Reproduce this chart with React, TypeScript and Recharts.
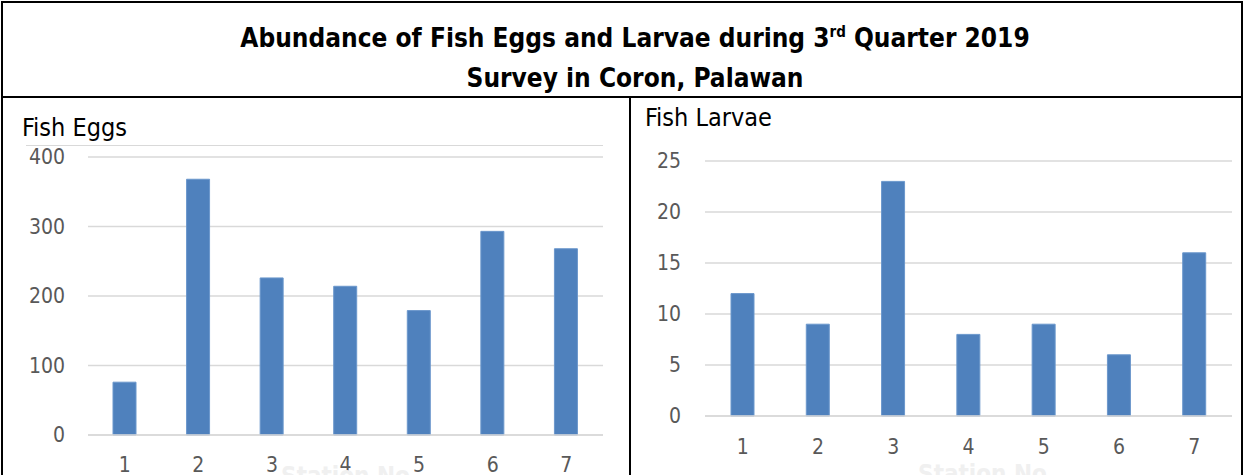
import React from 'react';
import { BarChart, Bar, XAxis, YAxis, CartesianGrid } from 'recharts';

const stations = ['1', '2', '3', '4', '5', '6', '7'];
const fishEggs = [76, 368, 226, 214, 179, 293, 268];
const fishLarvae = [12, 9, 23, 8, 9, 6, 16];
const eggTicks = [0, 100, 200, 300, 400];
const larvaeTicks = [0, 5, 10, 15, 20, 25];

const eggData = stations.map((station, i) => ({ station, count: fishEggs[i] }));
const larvaeData = stations.map((station, i) => ({ station, count: fishLarvae[i] }));

const FONT = '"Liberation Sans Narrow", "DejaVu Sans Condensed", "Liberation Sans", sans-serif';
const BAR_COLOR = '#4f81bd';
const GRID = '#d9d9d9';

const tickStyle = { fill: '#595959', fontSize: 21, fontFamily: FONT };
// axis title is almost entirely cropped off in the original screenshot
const faintLabel = {
  value: 'Station No',
  position: 'insideBottom' as const,
  offset: -9,
  fill: '#f0f0f0',
  fontSize: 24,
  fontWeight: 700,
  fontFamily: FONT,
};

const line = (style: React.CSSProperties): React.CSSProperties => ({
  position: 'absolute',
  background: '#000',
  ...style,
});

export default function App() {
  return (
    <div
      style={{
        position: 'absolute',
        left: 0,
        top: 0,
        width: 1244,
        height: 475,
        overflow: 'hidden',
        background: '#fff',
        fontFamily: FONT,
      }}
    >
      {/* table borders */}
      <div style={line({ left: 1, top: 1, width: 1242, height: 2 })} />
      <div style={line({ left: 1, top: 1, width: 2, height: 480 })} />
      <div style={line({ left: 1241, top: 1, width: 2, height: 480 })} />
      <div style={line({ left: 1, top: 96, width: 1242, height: 2 })} />
      <div style={line({ left: 629, top: 96, width: 2, height: 390 })} />

      {/* title */}
      <div
        style={{
          position: 'absolute',
          left: 0,
          width: 1270,
          top: 22,
          textAlign: 'center',
          fontSize: 26,
          fontWeight: 700,
          lineHeight: '32px',
          color: '#000',
        }}
      >
        Abundance of Fish Eggs and Larvae during 3<sup style={{ fontSize: 15, lineHeight: 0 }}>rd</sup> Quarter 2019
      </div>
      <div
        style={{
          position: 'absolute',
          left: 0,
          width: 1270,
          top: 62,
          textAlign: 'center',
          fontSize: 26,
          fontWeight: 700,
          lineHeight: '32px',
          color: '#000',
        }}
      >
        Survey in Coron, Palawan
      </div>

      {/* left panel: fish eggs */}
      <div style={{ position: 'absolute', left: 22, top: 113, fontSize: 25, lineHeight: '30px', color: '#000' }}>
        Fish Eggs
      </div>
      <div style={{ position: 'absolute', left: 26, top: 145, width: 577, height: 1, background: GRID }} />
      <div style={{ position: 'absolute', left: 0, top: 0 }}>
        <BarChart width={620} height={475} data={eggData} margin={{ top: 157, right: 17, bottom: 0, left: 0 }}>
          <CartesianGrid vertical={false} stroke={GRID} strokeWidth={1.5} />
          <XAxis
            dataKey="station"
            height={40}
            axisLine={{ stroke: GRID, strokeWidth: 1.5 }}
            tickLine={false}
            tickSize={0}
            tickMargin={22}
            tick={tickStyle}
            label={faintLabel}
          />
          <YAxis
            width={88}
            domain={[0, 400]}
            ticks={eggTicks}
            axisLine={false}
            tickLine={false}
            tickSize={0}
            tickMargin={23}
            tick={tickStyle}
          />
          <Bar dataKey="count" fill={BAR_COLOR} stroke="#6b97cc" strokeWidth={1} barSize={23} isAnimationActive={false} />
        </BarChart>
      </div>

      {/* right panel: fish larvae */}
      <div style={{ position: 'absolute', left: 645, top: 103, fontSize: 25, lineHeight: '30px', color: '#000' }}>
        Fish Larvae
      </div>
      <div style={{ position: 'absolute', left: 629, top: 0 }}>
        <BarChart width={615} height={475} data={larvaeData} margin={{ top: 161, right: 12, bottom: 0, left: 0 }}>
          <CartesianGrid vertical={false} stroke={GRID} strokeWidth={1.5} />
          <XAxis
            dataKey="station"
            height={59}
            axisLine={{ stroke: GRID, strokeWidth: 1.5 }}
            tickLine={false}
            tickSize={0}
            tickMargin={23}
            tick={tickStyle}
            label={{ ...faintLabel, offset: -7, dx: 14 }}
          />
          <YAxis
            width={76}
            domain={[0, 25]}
            ticks={larvaeTicks}
            axisLine={false}
            tickLine={false}
            tickSize={0}
            tickMargin={24}
            tick={tickStyle}
          />
          <Bar dataKey="count" fill={BAR_COLOR} stroke="#6b97cc" strokeWidth={1} barSize={23} isAnimationActive={false} />
        </BarChart>
      </div>
    </div>
  );
}
